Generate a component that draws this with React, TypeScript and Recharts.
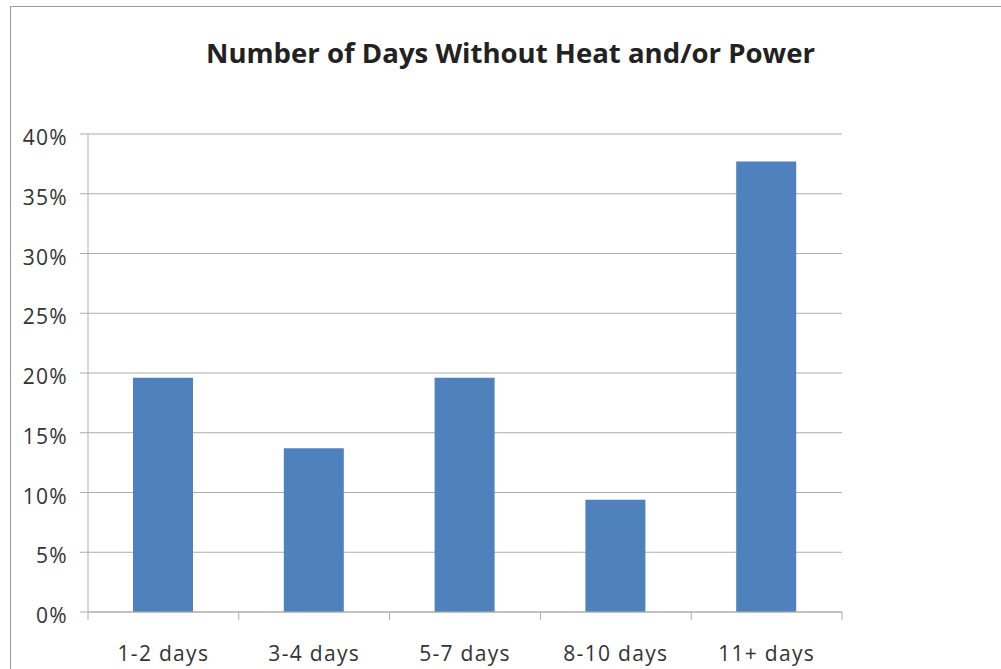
import { BarChart, Bar, XAxis, YAxis, CartesianGrid } from 'recharts';

const categories = ['1-2 days', '3-4 days', '5-7 days', '8-10 days', '11+ days'];
const shares = [19.6, 13.7, 19.6, 9.4, 37.7];
const yTicks = [0, 5, 10, 15, 20, 25, 30, 35, 40];
const title = 'Number of Days Without Heat and/or Power';

const data = categories.map((name, i) => ({ name, value: shares[i] }));

const W = 1001;
const H = 669;
const margin = { top: 134, right: 159, bottom: 0, left: 0 };
const yAxisWidth = 88;
const xAxisHeight = 57;
const band = (W - margin.left - yAxisWidth - margin.right) / categories.length;

const gray = '#adadad';
const textColor = '#333';
const labelFont = { fontFamily: '"Open Sans", sans-serif', fontSize: 21, letterSpacing: 1.3 };

function XTick(props: any) {
  const { x, y, payload, index } = props;
  const axisY = y - 34;
  return (
    <g>
      <line x1={x - band / 2} x2={x - band / 2} y1={axisY} y2={axisY + 8} stroke={gray} />
      {index === categories.length - 1 && (
        <line x1={x + band / 2} x2={x + band / 2} y1={axisY} y2={axisY + 8} stroke={gray} />
      )}
      <text x={x} y={y} dy="0.71em" textAnchor="middle" fill={textColor} {...labelFont}>
        {payload.value}
      </text>
    </g>
  );
}

function YTick(props: any) {
  const { x, y, payload } = props;
  return (
    <text x={x} y={y} dy={11} textAnchor="end" fill={textColor} {...labelFont}>
      {`${payload.value}%`}
    </text>
  );
}

export default function App() {
  return (
    <div style={{ position: 'absolute', left: 0, top: 0, width: W, height: H, background: '#fff', overflow: 'hidden' }}>
      <div
        style={{
          position: 'absolute',
          left: 10,
          top: 6,
          width: W,
          height: H,
          borderTop: '1.5px solid #9a9a9a',
          borderLeft: '1.5px solid #9a9a9a',
        }}
      />
      <svg width={W} height={80} style={{ position: 'absolute', left: 0, top: 0 }}>
        <text
          x={510.5}
          y={62.7}
          textAnchor="middle"
          fontFamily='"Open Sans", sans-serif'
          fontWeight="bold"
          fontSize={26}
          fill="#222"
          textLength={609}
          lengthAdjust="spacingAndGlyphs"
        >
          {title}
        </text>
      </svg>
      <div style={{ position: 'absolute', left: 0, top: 0 }}>
        <BarChart width={W} height={H} data={data} margin={margin}>
          <CartesianGrid vertical={false} stroke={gray} />
          <XAxis
            dataKey="name"
            height={xAxisHeight}
            stroke={gray}
            tickLine={false}
            tickSize={8}
            tickMargin={26}
            tick={<XTick />}
            interval={0}
          />
          <YAxis
            width={yAxisWidth}
            domain={[0, 40]}
            ticks={yTicks}
            stroke={gray}
            tickSize={8}
            tickMargin={12}
            tick={<YTick />}
            interval={0}
          />
          <Bar dataKey="value" fill="#4f81bd" barSize={60} isAnimationActive={false} />
        </BarChart>
      </div>
    </div>
  );
}
